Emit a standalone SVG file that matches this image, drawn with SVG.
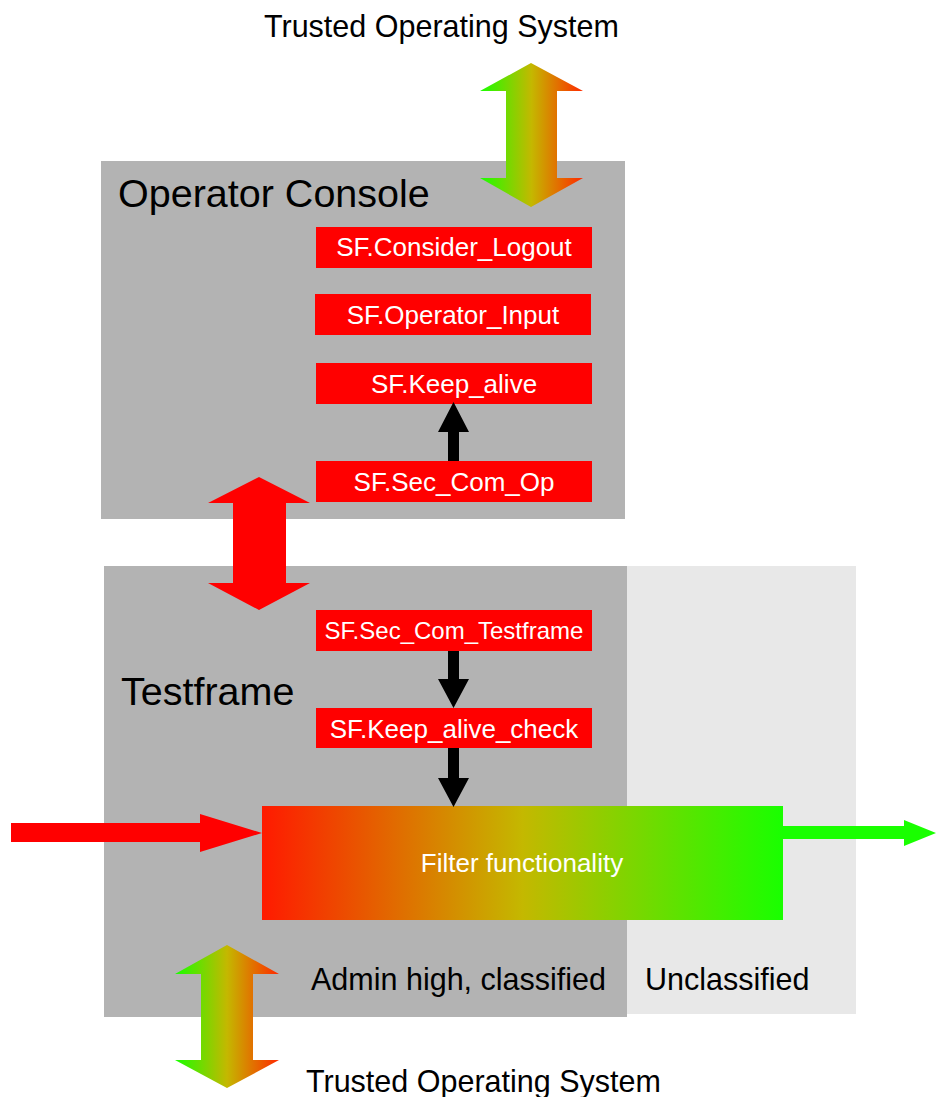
<svg xmlns="http://www.w3.org/2000/svg" width="936" height="1097" viewBox="0 0 936 1097">
  <defs>
    <linearGradient id="gArrow" x1="0" y1="0" x2="1" y2="0">
      <stop offset="0" stop-color="#19ff00"/>
      <stop offset="0.5" stop-color="#c4b800"/>
      <stop offset="1" stop-color="#ff2a00"/>
    </linearGradient>
    <linearGradient id="gFilter" x1="0" y1="0" x2="1" y2="0">
      <stop offset="0" stop-color="#ff1a00"/>
      <stop offset="0.5" stop-color="#c4b800"/>
      <stop offset="1" stop-color="#19ff00"/>
    </linearGradient>
    <style>
      text { font-family: "Liberation Sans", Arial, sans-serif; }
      .sf { fill: #ff0000; }
      .sft { fill: #ffffff; font-size: 26px; text-anchor: middle; }
      .lbl { fill: #000000; font-size: 30.5px; }
      .big { fill: #000000; font-size: 39.5px; }
      .zone { fill: #b3b3b3; }
    </style>
  </defs>

  <text class="lbl" x="264" y="37">Trusted Operating System</text>

  <g id="operator-console">
    <rect class="zone" x="101" y="161" width="524" height="358"/>
    <text class="big" x="118" y="207">Operator Console</text>
  </g>

  <g id="testframe">
    <rect x="627" y="566" width="229" height="448" fill="#e8e8e8"/>
    <rect class="zone" x="104" y="566" width="523" height="451"/>
    <text class="big" x="121" y="705">Testframe</text>
    <text class="lbl" x="311" y="990">Admin high, classified</text>
    <text class="lbl" x="645" y="990">Unclassified</text>
  </g>

  <g id="sf-consider-logout">
    <rect class="sf" x="316" y="227" width="276" height="41"/>
    <text class="sft" x="454" y="256">SF.Consider_Logout</text>
  </g>
  <g id="sf-operator-input">
    <rect class="sf" x="315" y="294" width="276" height="41"/>
    <text class="sft" x="453" y="324">SF.Operator_Input</text>
  </g>
  <g id="sf-keep-alive">
    <rect class="sf" x="316" y="363" width="276" height="41"/>
    <text class="sft" x="454" y="393">SF.Keep_alive</text>
  </g>
  <g id="sf-sec-com-op">
    <rect class="sf" x="316" y="461" width="276" height="41"/>
    <text class="sft" x="454" y="491">SF.Sec_Com_Op</text>
  </g>
  <g id="sf-sec-com-testframe">
    <rect class="sf" x="316" y="610" width="276" height="41"/>
    <text class="sft" x="454" y="639" style="font-size:24px">SF.Sec_Com_Testframe</text>
  </g>
  <g id="sf-keep-alive-check">
    <rect class="sf" x="316" y="708" width="276" height="40"/>
    <text class="sft" x="454" y="738">SF.Keep_alive_check</text>
  </g>
  <g id="filter">
    <rect x="262" y="806" width="521" height="114" fill="url(#gFilter)"/>
    <text class="sft" x="522" y="872">Filter functionality</text>
  </g>

  <g id="connectors">
    <polygon fill="url(#gArrow)" points="531,63 583,91 557,91 557,178 583,178 531,207 480,178 506,178 506,91 480,91"/>
    <polygon fill="#ff0000" points="259,477 310,503 286,503 286,583 310,583 259,610 208,583 233,583 233,503 208,503"/>
    <polygon fill="url(#gArrow)" points="227,945 279,974 253,974 253,1060 279,1060 227,1088 175,1060 201,1060 201,974 175,974"/>
    <polygon fill="#000000" points="448,461 448,432 438,432 453.5,402 469,432 459,432 459,461"/>
    <polygon fill="#000000" points="448,651 459,651 459,679 469,679 453.5,708 438,679 448,679"/>
    <polygon fill="#000000" points="448,748 459,748 459,778 469,778 453.5,807 438,778 448,778"/>
    <polygon fill="#ff0000" points="11,823 200,823 200,814 262,833 200,852 200,842 11,842"/>
    <polygon fill="#19ff00" points="783,826 904,826 904,820 936,833 904,846 904,839 783,839"/>
  </g>

  <text class="lbl" x="306" y="1092">Trusted Operating System</text>
</svg>
